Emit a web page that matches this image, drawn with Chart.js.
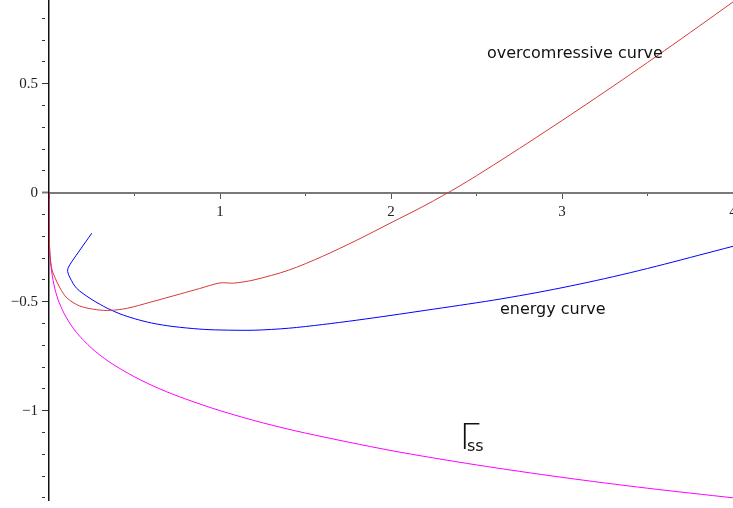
<!DOCTYPE html>
<html>
<head>
<meta charset="utf-8">
<title>overcompressive and energy curves</title>
<script src="https://cdn.jsdelivr.net/npm/chart.js@4.4.1/dist/chart.umd.min.js"></script>
<style>
    html, body { margin: 0; padding: 0; background: #fff; }
    canvas { display: block; }
</style>
</head>
<body>
<canvas id="curveChart" width="733" height="508"></canvas>
<script>
/* =========================
   DATA
========================= */

const redX = [0, 0.002, 0.006, 0.018, 0.035, 0.064, 0.105, 0.18, 0.28, 0.36, 0.46, 0.59, 0.77, 0.88, 1.0,
    1.08, 1.2, 1.4, 1.6, 1.8, 2.0, 2.2, 2.4, 2.6, 2.8, 3.0, 3.2, 3.4, 3.6, 3.8, 4.0];
const redY = [0, -0.2, -0.29, -0.355, -0.39, -0.437, -0.483, -0.52, -0.537, -0.54, -0.53, -0.503, -0.464, -0.44, -0.414,
    -0.415, -0.4, -0.356, -0.292, -0.218, -0.138, -0.058, 0.03, 0.127, 0.228, 0.331, 0.436, 0.543, 0.652, 0.763, 0.875];

const blueX = [0.25, 0.181, 0.133, 0.112, 0.109, 0.123, 0.162, 0.24, 0.3, 0.34, 0.415, 0.5, 0.6, 0.725, 0.883, 1.0,
    1.2, 1.4, 1.6, 1.8, 2.0, 2.2, 2.4, 2.6, 2.8, 3.0, 3.2, 3.4, 3.6, 3.8, 4.0];
const blueY = [-0.186, -0.263, -0.317, -0.345, -0.362, -0.391, -0.439, -0.485, -0.513, -0.53, -0.556, -0.578, -0.598, -0.614, -0.626, -0.63,
    -0.631, -0.622, -0.605, -0.585, -0.563, -0.54, -0.517, -0.493, -0.466, -0.436, -0.403, -0.367, -0.328, -0.287, -0.246];

const magentaX = [0, 0.001, 0.005, 0.015, 0.035, 0.06, 0.1, 0.16, 0.25, 0.35, 0.5, 0.65, 0.8, 1.0,
    1.25, 1.5, 2.0, 2.5, 3.0, 3.5, 4.0];
const magentaY = [0, -0.19, -0.276, -0.36, -0.443, -0.505, -0.571, -0.641, -0.714, -0.775, -0.845, -0.901, -0.947, -1.0,
    -1.056, -1.103, -1.183, -1.249, -1.306, -1.356, -1.4];

const curveNames = ["overcomressive curve", "energy curve", "ss"];

const xRange = [0, 4];
const yRange = [-1.41, 0.884];

/* =========================
   HELPERS
========================= */

function toPoints(xs, ys) {
    return xs.map((x, i) => ({ x: x, y: ys[i] }));
}

function isHalf(v) {
    return Math.abs(v * 2 - Math.round(v * 2)) < 1e-6;
}

function yLabel(v) {
    if (!isHalf(v)) return "";
    if (Math.abs(v) < 1e-9) return "0";
    return String(v).replace("-", "\u2212");
}

/* =========================
   TEXT ON THE PLOT
========================= */

const curveLabels = {
    id: "curveLabels",
    afterDatasetsDraw(chart) {
        const { ctx, scales } = chart;
        const notes = [
            { text: curveNames[0], x: 2.561, y: 0.617, font: "16px 'DejaVu Sans'" },
            { text: curveNames[1], x: 2.637, y: -0.557, font: "16px 'DejaVu Sans'" },
            { text: "\u0393", x: 2.4006, y: -1.176, font: "200 36px 'DejaVu Sans'" },
            { text: curveNames[2], x: 2.444, y: -1.184, font: "16px 'DejaVu Sans'" }
        ];
        ctx.save();
        ctx.fillStyle = "#111";
        ctx.textAlign = "left";
        ctx.textBaseline = "alphabetic";
        notes.forEach(n => {
            ctx.font = n.font;
            ctx.fillText(n.text, scales.x.getPixelForValue(n.x), scales.y.getPixelForValue(n.y));
        });
        ctx.restore();
    }
};

/* =========================
   CHART
========================= */

const lineStyle = { showLine: true, pointRadius: 0, borderWidth: 1, tension: 0.3, fill: false };

new Chart(document.getElementById("curveChart"), {

    type: "scatter",

    data: {
        datasets: [
            Object.assign({ label: "overcompressive", data: toPoints(redX, redY), borderColor: "#d43a3a" }, lineStyle),
            Object.assign({ label: "energy", data: toPoints(blueX, blueY), borderColor: "#0000ff" }, lineStyle),
            Object.assign({ label: "ss", data: toPoints(magentaX, magentaY), borderColor: "#ff00ff" }, lineStyle)
        ]
    },

    options: {
        responsive: false,
        animation: false,
        events: [],
        layout: { padding: { left: 0, right: 0, top: 0, bottom: 8 } },

        plugins: {
            legend: { display: false },
            tooltip: { enabled: false }
        },

        scales: {

            x: {
                type: "linear",
                min: xRange[0],
                max: xRange[1],
                position: { y: 0 },
                afterFit(s) { s.paddingLeft = 0; s.paddingRight = 0; },
                border: { display: true, color: "#7a7a7a", width: 2 },
                grid: {
                    drawOnChartArea: false,
                    tickLength: 5,
                    tickWidth: 1,
                    tickColor: "#555",
                    tickBorderDash: c => (Number.isInteger(c.tick.value) ? [] : [2, 10])
                },
                ticks: {
                    stepSize: 0.5,
                    autoSkip: false,
                    maxRotation: 0,
                    padding: 5,
                    color: "#222",
                    font: { family: "'Liberation Serif'", size: 15 },
                    callback: v => (v > 0 && Number.isInteger(v) ? String(v) : "")
                }
            },

            y: {
                type: "linear",
                min: yRange[0],
                max: yRange[1],
                position: "left",
                afterFit(s) { s.width = 49; s.paddingTop = 0; s.paddingBottom = 0; },
                border: { display: true, color: "#111", width: 1.5 },
                grid: {
                    drawOnChartArea: false,
                    tickLength: 7,
                    tickWidth: c => (Math.abs(c.tick.value) < 1e-9 ? 2 : 1),
                    tickColor: c => (Math.abs(c.tick.value) < 1e-9 ? "#7a7a7a" : "#333"),
                    tickBorderDash: c => (isHalf(c.tick.value) ? [] : [3, 10])
                },
                ticks: {
                    stepSize: 0.1,
                    includeBounds: false,
                    autoSkip: false,
                    padding: 4,
                    color: "#222",
                    font: { family: "'Liberation Serif'", size: 15 },
                    callback: v => yLabel(v)
                }
            }
        }
    },

    plugins: [curveLabels]
});
</script>
</body>
</html>
